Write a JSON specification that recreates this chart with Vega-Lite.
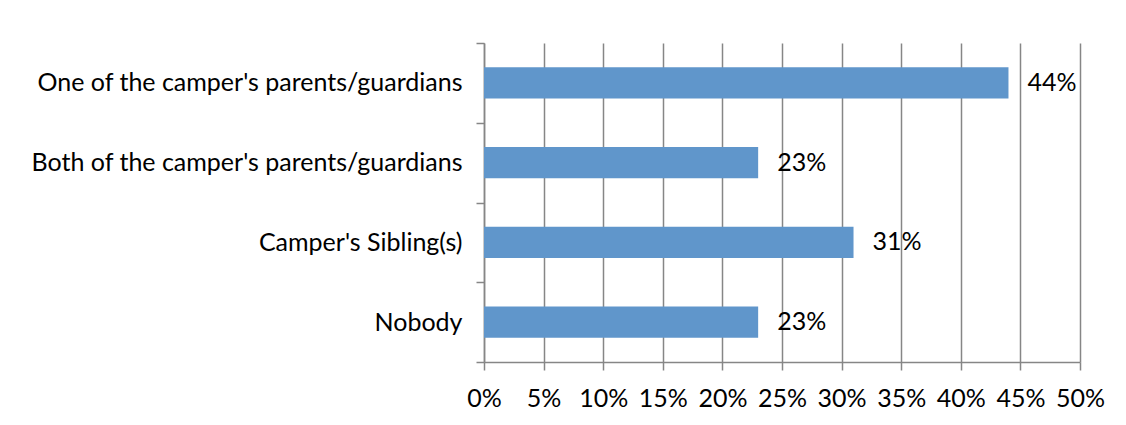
{
  "$schema": "https://vega.github.io/schema/vega-lite/v6.json",
  "width": 596,
  "height": 319,
  "padding": {"left": 30, "top": 31, "right": 5, "bottom": 5},
  "background": "white",
  "data": {"values": [
    {"category": "One of the camper's parents/guardians", "value": 0.44},
    {"category": "Both of the camper's parents/guardians", "value": 0.23},
    {"category": "Camper's Sibling(s)", "value": 0.31},
    {"category": "Nobody", "value": 0.23}
  ]},
  "encoding": {
    "y": {
      "field": "category", "type": "nominal", "sort": null, "title": null,
      "scale": {"paddingInner": 0, "paddingOuter": 0},
      "axis": {"tickBand": "extent", "domainColor": "#868686", "tickColor": "#868686", "tickSize": 8, "labelPadding": 14, "labelFont": "Lato", "labelFontSize": 25, "labelColor": "#000000", "labelLimit": 600, "grid": false}
    },
    "x": {
      "field": "value", "type": "quantitative", "title": null,
      "scale": {"domain": [0, 0.5], "nice": false},
      "axis": {"format": ".0%", "values": [0, 0.05, 0.1, 0.15, 0.2, 0.25, 0.3, 0.35, 0.4, 0.45, 0.5], "labelOverlap": false, "labelFlush": false, "grid": true, "gridColor": "#868686", "gridWidth": 1.5, "domainColor": "#868686", "tickColor": "#868686", "tickSize": 8, "labelPadding": 16, "labelFont": "Lato", "labelFontSize": 25, "labelColor": "#000000"}
    }
  },
  "layer": [
    {"mark": {"type": "bar", "color": "#6096CB", "height": {"band": 0.39}}},
    {"mark": {"type": "text", "align": "left", "dx": 19, "font": "Lato", "fontSize": 25, "color": "#000000"},
     "encoding": {"text": {"field": "value", "type": "quantitative", "format": ".0%"}}}
  ],
  "config": {"view": {"stroke": null}, "axis": {"domainWidth": 1.5, "tickWidth": 1.5}}
}
